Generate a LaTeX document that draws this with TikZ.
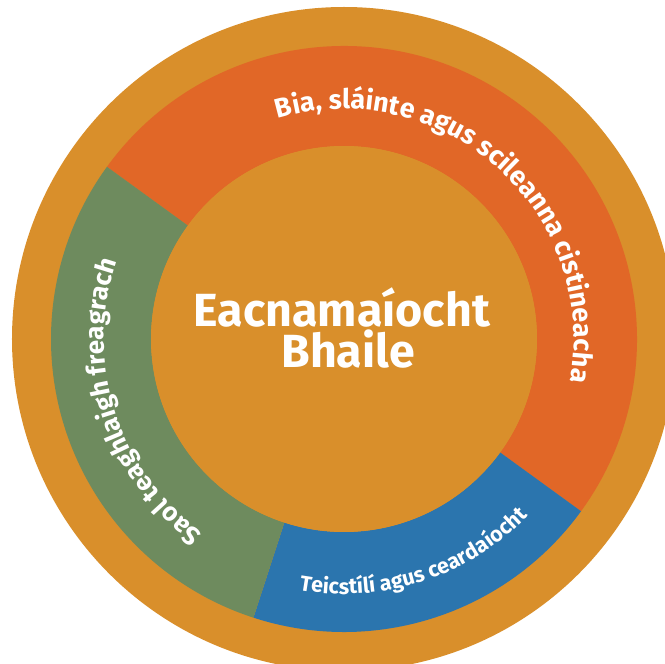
\documentclass[tikz,border=0pt]{standalone}
\usepackage{fontspec}
\setmainfont{Fira Sans}
\usetikzlibrary{decorations.text}
\definecolor{ochre}{HTML}{D98F2B}
\definecolor{rust}{HTML}{E16727}
\definecolor{sage}{HTML}{6E8B5E}
\definecolor{steel}{HTML}{2B75AE}
\newcommand{\ringfont}{\bfseries\fontsize{27}{27}\selectfont}
\newcommand{\sideringfont}{\bfseries\fontsize{26}{26}\selectfont}
\newcommand{\smallringfont}{\bfseries\fontsize{21.5}{21.5}\selectfont}
\begin{document}
\begin{tikzpicture}[x=1pt,y=1pt]
\tikzstyle{every node}+=[inner sep=0pt]
\tikzstyle{arctext}=[decorate,decoration={text along path,text color=white,text align=center}]
\useasboundingbox (-344,-325) rectangle (321,339);
\clip (-344,-325) rectangle (321,339);
\fill [ochre] (0,0) circle (332);
% ring segments
\fill [rust] (144:193) arc[start angle=144,end angle=-36,radius=193] -- (-36:293) arc[start angle=-36,end angle=144,radius=293] -- cycle;
\fill [steel] (-36:193) arc[start angle=-36,end angle=-108,radius=193] -- (-108:293) arc[start angle=-108,end angle=-36,radius=293] -- cycle;
\fill [sage] (-108:193) arc[start angle=-108,end angle=-216,radius=193] -- (144:293) arc[start angle=144,end angle=252,radius=293] -- cycle;
\fill [ochre] (0,0) circle (193);
% labels on the ring
\path [arctext,decoration={text={|\ringfont|Bia, sláinte agus scileanna cistineacha}}] (138:230) arc[start angle=138,end angle=-42,radius=230];
\path [arctext,decoration={text={|\sideringfont|Saol teaghlaigh freagrach}}] (252.5:240) arc[start angle=252.5,end angle=142.5,radius=240];
\path [arctext,decoration={text={|\smallringfont|Teicstílí agus ceardaíocht}}] (-108:255) arc[start angle=-108,end angle=-36,radius=255];
% title
\node [anchor=base,text=white,font=\bfseries\fontsize{46.5}{46.5}\selectfont] (title) at (-2,12.5) {Eacnamaíocht};
\node [anchor=base,text=white,font=\bfseries\fontsize{46.5}{46.5}\selectfont] (subtitle) at (4,-29) {Bhaile};
\end{tikzpicture}
\end{document}
